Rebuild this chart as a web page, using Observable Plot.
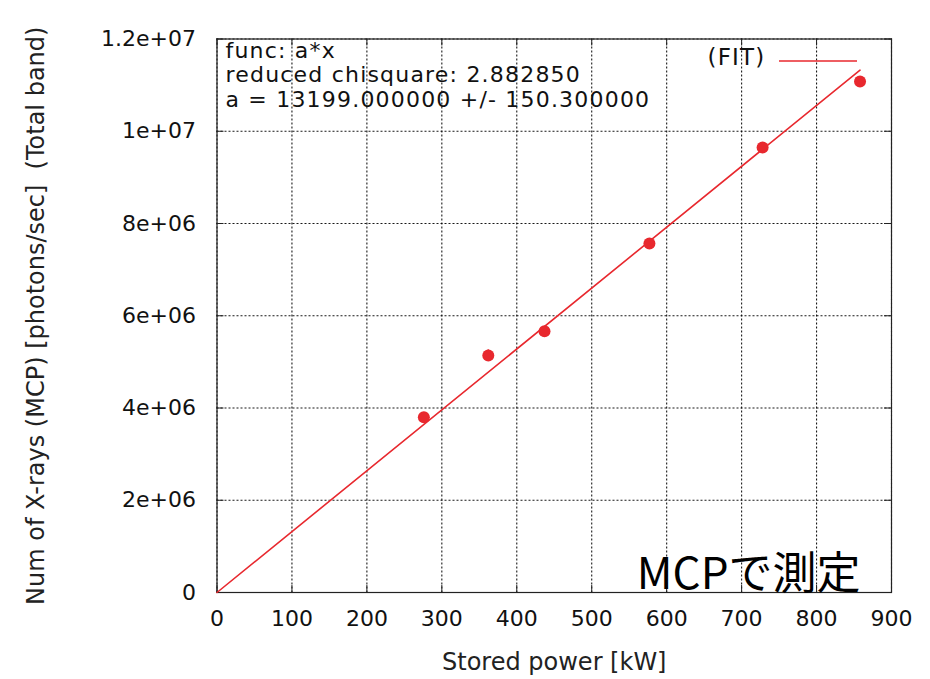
<!DOCTYPE html>
<html>
<head>
<meta charset="utf-8">
<script src="https://cdn.jsdelivr.net/npm/d3@7"></script>
<script src="https://cdn.jsdelivr.net/npm/@observablehq/plot@0.6"></script>
<style>
  html, body { margin: 0; padding: 0; background: #fff; }
  #chart svg { display: block; }
  .fit-info text { letter-spacing: 1.2px; }
</style>
</head>
<body>
<div id="chart"></div>
<script>
// Measured X-ray rate (MCP, total band) versus stored power
const power = [276, 362, 437, 577, 728, 858];                       // kW
const photons = [3.80e6, 5.14e6, 5.665e6, 7.566e6, 9.648e6, 11.08e6]; // photons/sec
const photonErr = [0.08e6, 0.12e6, 0.09e6, 0.08e6, 0.08e6, 0.10e6];

// Fit result y = a*x
const fitSlope = 13199;
const fitInfo = [
  "func: a*x",
  "reduced chisquare: 2.882850",
  "a = 13199.000000 +/- 150.300000"
];
const legendLabel = "(FIT)";
const cornerNote = "MCPで測定";

const xTicks = [0, 100, 200, 300, 400, 500, 600, 700, 800, 900];
const xTickLabels = ["0", "100", "200", "300", "400", "500", "600", "700", "800", "900"];
const yTicks = [0, 2e6, 4e6, 6e6, 8e6, 1e7, 1.2e7];
const yTickLabels = ["0", "2e+06", "4e+06", "6e+06", "8e+06", "1e+07", "1.2e+07"];
const xLabel = "Stored power [kW]";
const yLabel = "Num of X-rays (MCP) [photons/sec]  (Total band)";

const points = power.map((x, i) => ({x, y: photons[i], e: photonErr[i]}));
const fitLine = [0, d3.max(power)].map(x => ({x, y: fitSlope * x}));

const W = 930, H = 679;
const mL = 216.5, mR = 39, mT = 38.5, mB = 87;
const innerW = W - mL - mR, innerH = H - mT - mB;
const red = "#e8282e";
const tickLen = 7;

const chart = Plot.plot({
  width: W,
  height: H,
  marginLeft: mL,
  marginRight: mR,
  marginTop: mT,
  marginBottom: mB,
  style: {fontFamily: "'DejaVu Sans', sans-serif", fontSize: "22px", background: "#fff", color: "#111"},
  x: {domain: [0, 900]},
  y: {domain: [0, 1.2e7]},
  marks: [
    // dotted grid
    Plot.gridX(xTicks, {stroke: "#000", strokeOpacity: 0.9, strokeDasharray: "2,2", strokeWidth: 1.1}),
    Plot.gridY(yTicks, {stroke: "#000", strokeOpacity: 0.9, strokeDasharray: "2,2", strokeWidth: 1.1}),
    // inward tick marks on all four sides
    Plot.tickX(xTicks, {x: d => d, insetTop: innerH - tickLen, stroke: "#222"}),
    Plot.tickX(xTicks, {x: d => d, insetBottom: innerH - tickLen, stroke: "#222"}),
    Plot.tickY(yTicks, {y: d => d, insetRight: innerW - tickLen, stroke: "#222"}),
    Plot.tickY(yTicks, {y: d => d, insetLeft: innerW - tickLen, stroke: "#222"}),
    Plot.frame({stroke: "#222", strokeWidth: 1.2}),
    Plot.axisX(xTicks, {tickSize: 0, tickPadding: 18, tickFormat: (d, i) => xTickLabels[i], label: null, fontSize: 22}),
    Plot.axisY(yTicks, {tickSize: 0, tickPadding: 21, tickFormat: (d, i) => yTickLabels[i], label: null, fontSize: 22}),
    // axis titles
    Plot.text([xLabel], {frameAnchor: "bottom", dy: 70, fontSize: 24, fill: "#222", lineAnchor: "middle", textAnchor: "middle"}),
    Plot.text([yLabel], {frameAnchor: "left", dx: -181, rotate: -90, fontSize: 24, fill: "#222", lineAnchor: "middle", textAnchor: "middle"}),
    // fit line and measurements
    Plot.line(fitLine, {x: "x", y: "y", stroke: red, strokeWidth: 1.6}),
    Plot.ruleX(points, {x: "x", y1: d => d.y - d.e, y2: d => d.y + d.e, stroke: red, strokeWidth: 1.6}),
    Plot.dot(points, {x: "x", y: "y", r: 6, fill: red}),
    // fit summary
    Plot.text([fitInfo.join("\n")], {className: "fit-info", frameAnchor: "top-left", dx: 8.5, dy: 2, lineAnchor: "top", lineHeight: 1.1, fontSize: 22, fill: "#111", textAnchor: "start"}),
    Plot.text([legendLabel], {className: "fit-info", frameAnchor: "top-right", dx: -126, dy: 10, lineAnchor: "top", fontSize: 23, fill: "#111", textAnchor: "end"}),
    // note
    Plot.text([cornerNote], {frameAnchor: "bottom-right", dx: -31, dy: -4, lineAnchor: "bottom", fontSize: 44, fill: "#000", textAnchor: "end", fontFamily: "'Noto Sans CJK JP', sans-serif"})
  ]
});

// legend sample for the fit line
d3.select(chart).append("line")
  .attr("x1", W - mR - 112).attr("x2", W - mR - 34)
  .attr("y1", mT + 22.5).attr("y2", mT + 22.5)
  .attr("stroke", red).attr("stroke-width", 1.6);

document.getElementById("chart").appendChild(chart);
</script>
</body>
</html>
